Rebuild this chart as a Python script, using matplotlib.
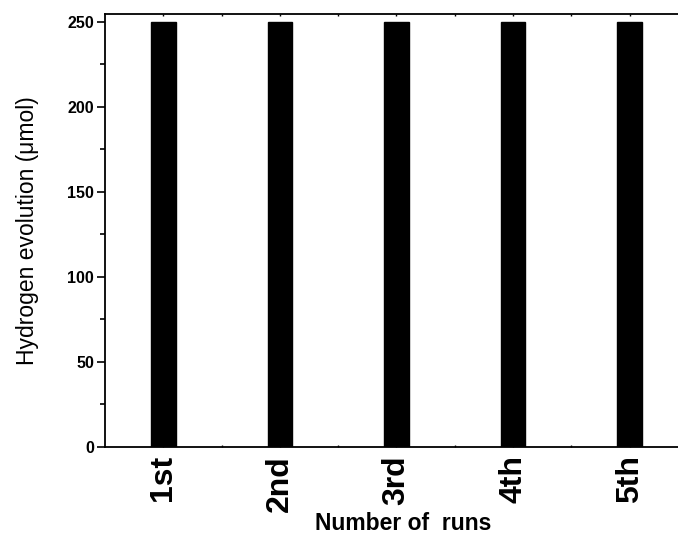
import matplotlib
matplotlib.use("Agg")
import matplotlib.pyplot as plt
from matplotlib.ticker import MultipleLocator

runs = ["1st", "2nd", "3rd", "4th", "5th"]
hydrogen = [250, 250, 250, 250, 250]
yticks = [0, 50, 100, 150, 200, 250]

plt.rcParams['font.family'] = ['Liberation Sans', 'DejaVu Sans']

fig = plt.figure(figsize=(6.78, 5.40), dpi=100)
W, H = 678, 540
ax = fig.add_axes([105 / W, 1 - 447 / H, (688 - 105) / W, (447 - 14) / H])

pos = list(range(1, len(runs) + 1))
ax.bar(pos, hydrogen, width=0.21, color='black', edgecolor='black')

ax.set_xlim(0.5, 5.5)
ax.set_ylim(0, 254.7)
ax.set_yticks(yticks)
ax.set_yticklabels([str(v) for v in yticks], fontsize=11.5, fontweight='bold')
ax.yaxis.set_minor_locator(MultipleLocator(25))
ax.tick_params(axis='y', which='major', direction='out', length=6, width=1.2, pad=2)
ax.tick_params(axis='y', which='minor', direction='out', length=3.5, width=1.2)
ax.tick_params(axis='y', right=False)

ax.set_xticks(pos)
ax.set_xticklabels(runs, rotation=90, fontsize=23, fontweight='bold')
ax.set_xticks([p + 0.5 for p in pos[:-1]], minor=True)
ax.tick_params(axis='x', which='both', direction='in', length=1.5, width=1, top=True, pad=6)

for s in ['left', 'bottom', 'top']:
    ax.spines[s].set_linewidth(1.3)
ax.spines['right'].set_visible(False)

ax.set_ylabel("Hydrogen evolution (\u03bcmol)", fontsize=16.5, labelpad=20)
ax.set_xlabel("Number of  runs", fontsize=16.5, fontweight='bold', labelpad=0)
ax.xaxis.label.set_x(0.512)

fig.savefig("out.png", dpi=100)
